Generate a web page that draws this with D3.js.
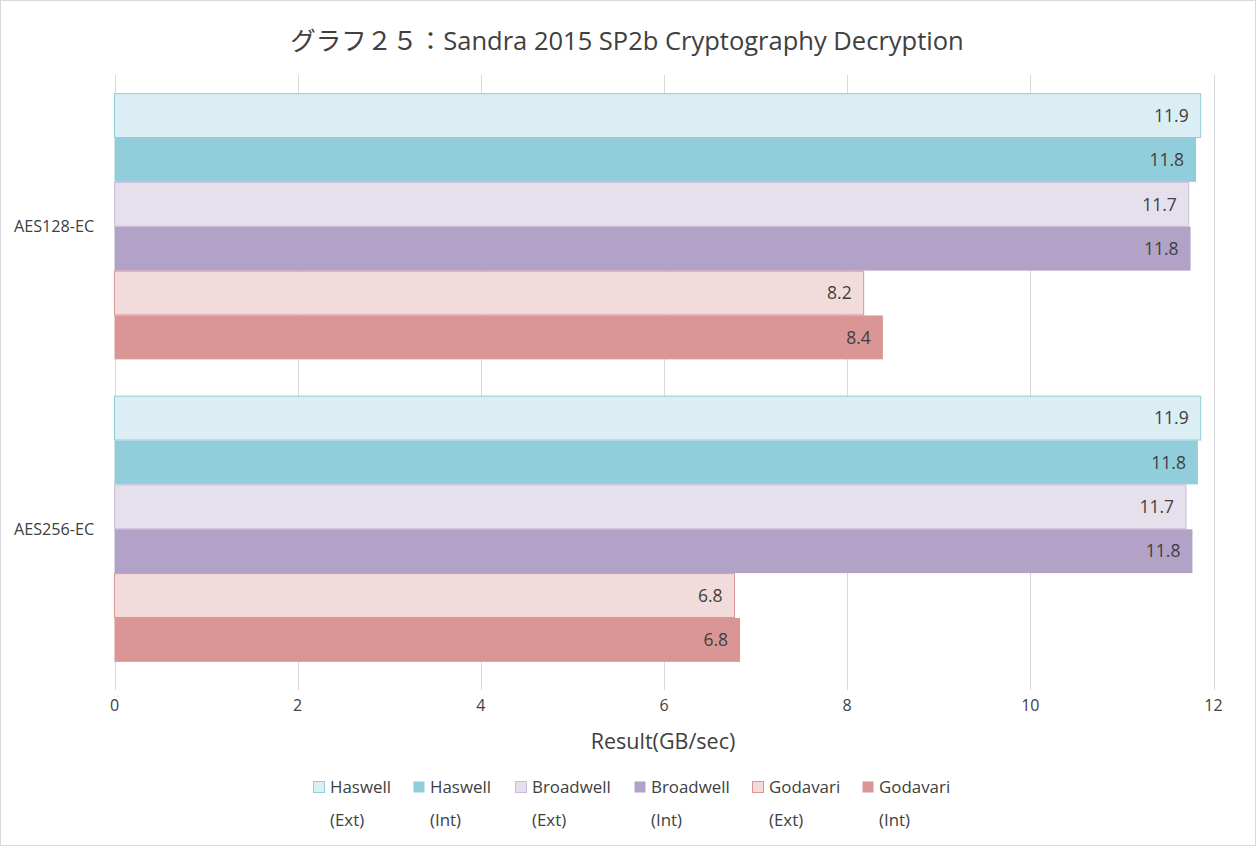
<!DOCTYPE html>
<html><head><meta charset="utf-8">
<script src="https://cdn.jsdelivr.net/npm/d3@7"></script>
<style>
body{margin:0;background:#fff;}
text{font-family:"Open Sans","Noto Sans CJK JP",sans-serif;fill:#404040;}
</style></head>
<body><svg id="c" width="1256" height="846"></svg>
<script>
const categories = ["AES128-EC", "AES256-EC"];
const seriesNames = ["Haswell (Ext)", "Haswell (Int)", "Broadwell (Ext)", "Broadwell (Int)", "Godavari (Ext)", "Godavari (Int)"];
const legendLine1 = ["Haswell", "Haswell", "Broadwell", "Broadwell", "Godavari", "Godavari"];
const legendLine2 = ["(Ext)", "(Int)", "(Ext)", "(Int)", "(Ext)", "(Int)"];
const aes128 = [11.86, 11.81, 11.73, 11.75, 8.18, 8.39];
const aes256 = [11.86, 11.83, 11.70, 11.77, 6.77, 6.83];
const labels128 = ["11.9", "11.8", "11.7", "11.8", "8.2", "8.4"];
const labels256 = ["11.9", "11.8", "11.7", "11.8", "6.8", "6.8"];
const xTicks = [0, 2, 4, 6, 8, 10, 12];
const fills = ["#DAEEF3", "#92CDDC", "#E5E0EC", "#B2A2C7", "#F2DCDB", "#D99694"];
const strokes = ["#92CDDC", "#92CDDC", "#C9BED9", "#B2A2C7", "#D99694", "#D99694"];

(function(){
const svg = d3.select("#c");
svg.append("rect").attr("x",0.5).attr("y",0.5).attr("width",1255).attr("height",845)
  .attr("fill","#fff").attr("stroke","#d9d9d9");

const pL = 114.5, pR = 1213.5, pT = 75, pB = 680;
const x = d3.scaleLinear().domain([0,12]).range([pL,pR]);
const y0 = d3.scaleBand().domain(categories).range([pT,pB]).paddingInner(0.12).paddingOuter(0.06);
const y1 = d3.scaleBand().domain(seriesNames).range([0,y0.bandwidth()]);

svg.append("g").selectAll("line").data(xTicks).join("line")
  .attr("x1",d=>Math.round(x(d))+0.5).attr("x2",d=>Math.round(x(d))+0.5)
  .attr("y1",pT).attr("y2",690).attr("stroke","#d9d9d9").attr("stroke-width",1);

const data = [aes128, aes256];
const lbls = [labels128, labels256];
categories.forEach((c,ci)=>{
  const g = svg.append("g").attr("transform",`translate(0,${y0(c)})`);
  const rows = seriesNames.map((s,i)=>({s,i,v:data[ci][i],l:lbls[ci][i]}));
  g.selectAll("rect").data(rows).join("rect")
    .attr("x",x(0)).attr("y",d=>y1(d.s)+0.5).attr("width",d=>x(d.v)-x(0)).attr("height",y1.bandwidth()-0.5)
    .attr("fill",d=>fills[d.i]).attr("stroke",d=>strokes[d.i]).attr("stroke-width",d=>d.i%2===0?1:0);
  g.selectAll("text").data(rows).join("text")
    .attr("x",d=>x(d.v)-12).attr("y",d=>y1(d.s)+y1.bandwidth()/2+6.5)
    .attr("text-anchor","end").attr("font-size",17.5).text(d=>d.l);
});

svg.append("g").selectAll("text").data(categories).join("text")
  .attr("x",14).attr("y",d=>y0(d)+y0.bandwidth()/2+6).attr("font-size",16.2).text(d=>d);

svg.append("g").selectAll("text").data(xTicks).join("text")
  .attr("x",d=>x(d)).attr("y",711).attr("text-anchor","middle").attr("font-size",16).text(d=>d);

svg.append("text").attr("x",(pL+pR)/2-1).attr("y",749).attr("text-anchor","middle")
  .attr("font-size",21.5).text("Result(GB/sec)");

svg.append("text").attr("x",627).attr("y",50).attr("text-anchor","middle")
  .attr("font-size",25.5).text("グラフ２５：Sandra 2015 SP2b Cryptography Decryption");

const legX = [313, 413, 515, 634, 752, 862];
const lg = svg.append("g");
seriesNames.forEach((s,i)=>{
  lg.append("rect").attr("x",legX[i]+0.5).attr("y",781.5).attr("width",11).attr("height",11)
    .attr("fill",fills[i]).attr("stroke",strokes[i]).attr("stroke-width",i%2===0?1:0);
  lg.append("text").attr("x",legX[i]+17).attr("y",793).attr("font-size",16.9).text(legendLine1[i]);
  lg.append("text").attr("x",legX[i]+17).attr("y",826).attr("font-size",16.9).text(legendLine2[i]);
});
})();
</script></body></html>
